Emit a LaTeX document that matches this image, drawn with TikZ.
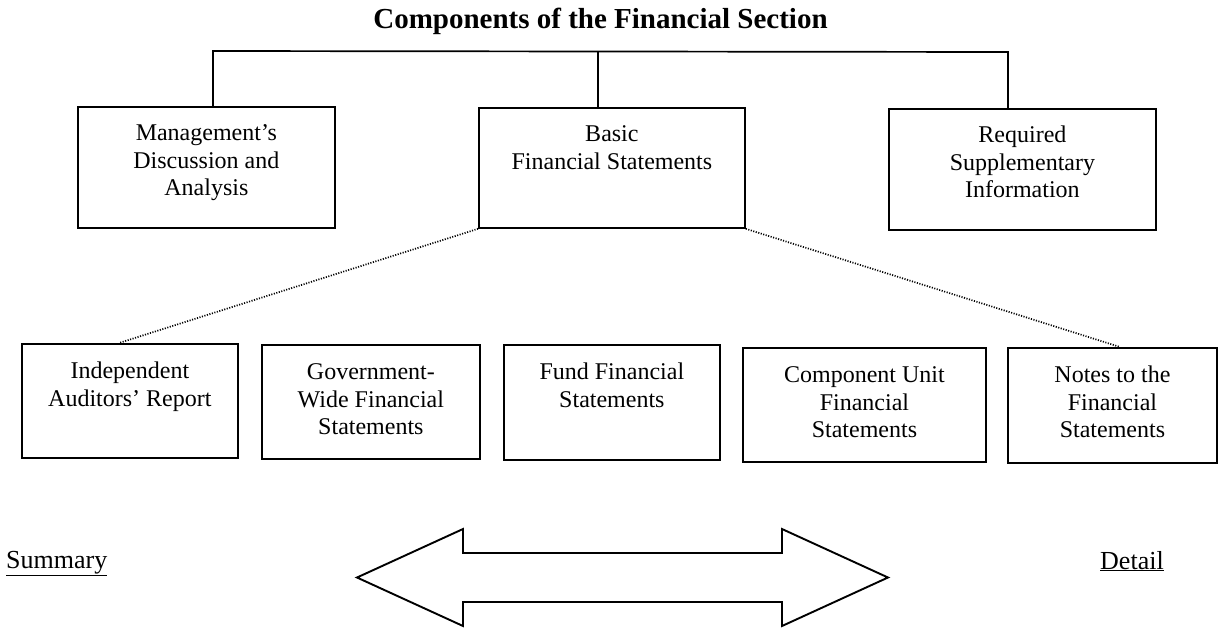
\documentclass[tikz,border=0pt]{standalone}
\usepackage{fontspec}
\setmainfont{Liberation Serif}
\newcommand{\bxtext}[4]{\parbox[c][#2pt][t]{#1pt}{\centering\vspace*{#4pt}\strut #3\par}}
\begin{document}
\begin{tikzpicture}[x=1pt,y=-1pt,
  box/.style={draw, line width=1.8pt, inner sep=0pt, anchor=north west,
    font=\fontsize{24}{27.8}\selectfont},
  link/.style={line width=1.7pt},
  dots/.style={line width=1.7pt, dash pattern=on 1.1pt off 1.5pt},
  endlabel/.style={anchor=base west, inner sep=0pt, font=\fontsize{26}{30}\selectfont}]
\useasboundingbox (0,0) rectangle (1223,627);
\node[anchor=base, inner sep=0pt, font=\fontsize{29}{34}\selectfont\bfseries] (title) at (600.5,28.5) {Components of the Financial Section};
% upper row
\node[box] (mda) at (77,106) {\bxtext{257}{121}{Management’s\\Discussion and\\Analysis}{14}};
\node[box] (bfs) at (478,107) {\bxtext{266}{120}{Basic\\Financial Statements}{14}};
\node[box] (rsi) at (888,108) {\bxtext{267}{121}{Required\\Supplementary\\Information}{14}};
% lower row
\node[box] (iar) at (21,343) {\bxtext{216}{114}{Independent\\Auditors’ Report}{15}};
\node[box] (gwfs) at (261,344) {\bxtext{218}{114}{Government-\\Wide Financial\\Statements}{15}};
\node[box] (ffs) at (503,344) {\bxtext{216}{115}{Fund Financial\\Statements}{15}};
\node[box] (cufs) at (742,347) {\bxtext{243}{114}{Component Unit\\Financial\\Statements}{15}};
\node[box] (nfs) at (1007,347) {\bxtext{209}{115}{Notes to the\\Financial\\Statements}{15}};
% top connectors
\coordinate (ja) at (213,51);
\coordinate (jb) at (598,51);
\coordinate (jc) at (1008,52);
\draw[link] (ja |- mda.north) -- (ja) -- (jc) -- (jc |- rsi.north);
\draw[link] (jb) -- (jb |- bfs.north);
% dotted connectors
\coordinate (dl) at (119,0);
\coordinate (dr) at (1120,0);
\draw[dots] (bfs.south west) -- (dl |- iar.north);
\draw[dots] (bfs.south east) -- (dr |- nfs.north);
% double arrow
\draw[line width=1.9pt, line join=miter]
  (357,577.5) -- (463,529) -- (463,553) -- (782,553) -- (782,529)
  -- (888,577.5) -- (782,626) -- (782,602) -- (463,602) -- (463,626) -- cycle;
% end labels
\node[endlabel] (summary) at (6,568) {\underline{Summary}};
\node[endlabel] (detail) at (1100,569) {\underline{Detail}};
\end{tikzpicture}
\end{document}
